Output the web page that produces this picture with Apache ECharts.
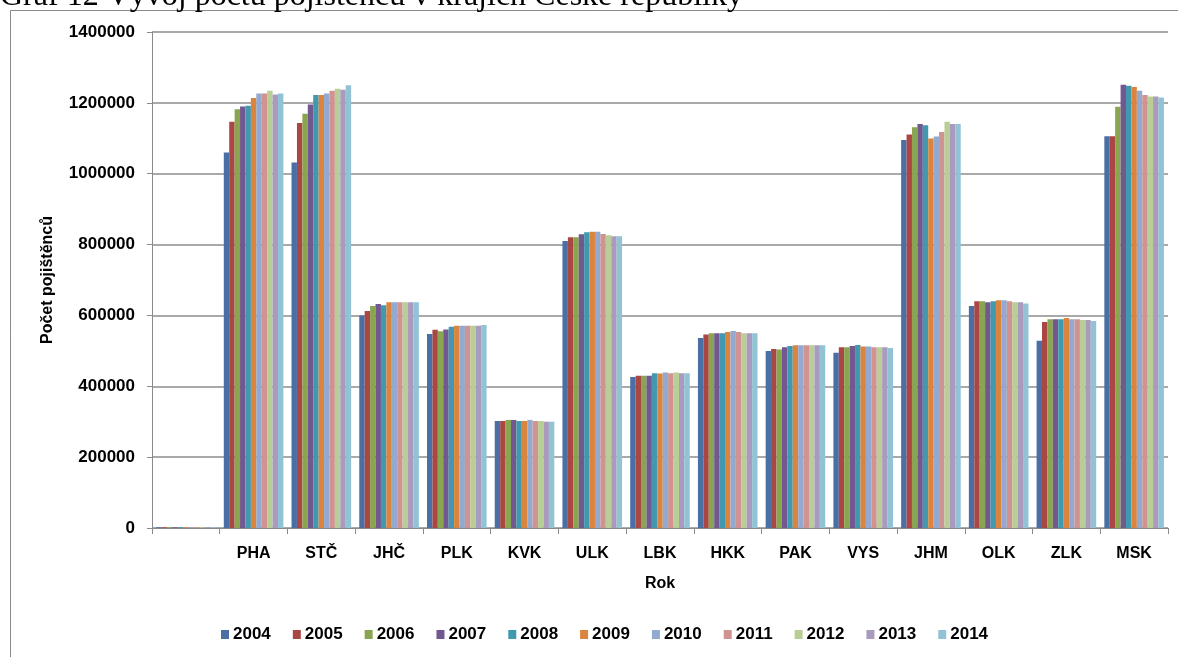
<!DOCTYPE html>
<html>
<head>
<meta charset="utf-8">
<title>Vývoj počtu pojištěnců v krajích</title>
<script src="https://cdn.jsdelivr.net/npm/echarts@6/dist/echarts.min.js"></script>
<style>
  html, body { margin: 0; padding: 0; background: #fff; }
  #chart { width: 1178px; height: 657px; }
</style>
</head>
<body>
<div id="chart"></div>
<script>
// kraje (first category is the empty "Rok" row)
const categories = ['', 'PHA', 'STČ', 'JHČ', 'PLK', 'KVK', 'ULK', 'LBK', 'HKK', 'PAK', 'VYS', 'JHM', 'OLK', 'ZLK', 'MSK']
const years = ['2004', '2005', '2006', '2007', '2008', '2009', '2010', '2011', '2012', '2013', '2014']
const yTicks = [0, 200000, 400000, 600000, 800000, 1000000, 1200000, 1400000]

// values per year, in the order of categories
const v2004 = [2004, 1060000, 1031500, 600000, 547500, 302000, 810000, 426000, 536000, 499500, 494500, 1095000, 626500, 528500, 1106000]
const v2005 = [2005, 1147000, 1143000, 612500, 559500, 302000, 820500, 429500, 546500, 505000, 510500, 1110500, 640000, 581500, 1106000]
const v2006 = [2006, 1182000, 1169000, 626500, 555000, 305000, 820500, 429500, 550000, 504000, 510000, 1131500, 640000, 589000, 1189000]
const v2007 = [2007, 1190000, 1195500, 632000, 560500, 305000, 829000, 429500, 550000, 510500, 513500, 1140000, 637000, 589000, 1251000]
const v2008 = [2008, 1192000, 1222000, 628500, 568000, 302000, 835000, 436500, 550000, 513500, 516500, 1137000, 640000, 589000, 1248000]
const v2009 = [2009, 1213500, 1222000, 637000, 571000, 302000, 836500, 436000, 553000, 515500, 512500, 1099500, 642500, 592500, 1244500]
const v2010 = [2010, 1226500, 1226500, 637000, 571000, 305000, 836500, 439000, 556000, 515500, 512500, 1105000, 642500, 589000, 1234000]
const v2011 = [2011, 1226500, 1234000, 637000, 571000, 302000, 830000, 436500, 553000, 515500, 510000, 1118000, 640000, 589000, 1222000]
const v2012 = [2012, 1234000, 1240000, 637000, 571000, 302000, 826500, 439000, 550000, 515500, 510000, 1146500, 637000, 587000, 1218000]
const v2013 = [2013, 1223500, 1237000, 637000, 571000, 300000, 823500, 436500, 550000, 515500, 510000, 1140000, 637000, 587000, 1218000]
const v2014 = [2014, 1226500, 1250000, 637000, 573000, 300000, 823500, 436500, 550000, 515500, 508000, 1140000, 634000, 584000, 1215000]

const yearValues = [v2004, v2005, v2006, v2007, v2008, v2009, v2010, v2011, v2012, v2013, v2014]
const colors = ['#4a6fa5', '#aa4644', '#8aa54f', '#71588f', '#4199b0', '#db843d', '#93a9cf', '#d09392', '#b9cd96', '#a99bbd', '#92c3d5']

const chart = echarts.init(document.getElementById('chart'))

const labelFont = {
  fontFamily: 'Liberation Sans',
  fontWeight: 'bold',
  color: '#000'
}

const option = {
  animation: false,
  color: colors,
  graphic: [
    {
      type: 'rect',
      shape: { x: 10.5, y: 10.5, width: 1200, height: 700 },
      style: { fill: 'none', stroke: '#8a8a8a', lineWidth: 1 },
      silent: true
    },
    {
      type: 'text',
      left: 0,
      top: -19,
      style: {
        text: 'Graf 12 Vývoj počtu pojištěnců v krajích České republiky',
        font: '32px "Liberation Serif"',
        fill: '#000'
      },
      silent: true
    }
  ],
  grid: {
    left: 152,
    right: 10,
    top: 32,
    bottom: 129
  },
  legend: {
    data: years,
    left: 216,
    top: 621,
    itemWidth: 8,
    itemHeight: 9,
    itemGap: 22,
    icon: 'rect',
    textStyle: Object.assign({ fontSize: 17, padding: [0, 0, 0, -1] }, labelFont)
  },
  xAxis: {
    type: 'category',
    data: categories,
    name: 'Rok',
    nameLocation: 'middle',
    nameGap: 48,
    nameTextStyle: Object.assign({ fontSize: 16 }, labelFont),
    axisLine: { lineStyle: { color: '#8a8a8a', width: 1 } },
    axisTick: { show: true, length: 6, lineStyle: { color: '#8a8a8a' } },
    axisLabel: Object.assign({ fontSize: 16, margin: 18 }, labelFont)
  },
  yAxis: {
    type: 'value',
    min: 0,
    max: 1400000,
    interval: 200000,
    name: 'Počet pojištěnců',
    nameLocation: 'middle',
    nameGap: 96,
    nameTextStyle: Object.assign({ fontSize: 16 }, labelFont),
    axisLine: { show: true, lineStyle: { color: '#8a8a8a', width: 1 } },
    axisTick: { show: true, length: 5, lineStyle: { color: '#8a8a8a' } },
    axisLabel: Object.assign({
      fontSize: 17,
      margin: 17,
      formatter: (val) => yTicks.indexOf(val) >= 0 ? String(val) : ''
    }, labelFont),
    splitLine: { lineStyle: { color: '#8c8c8c', width: 1.5 } }
  },
  series: years.map((y, i) => ({
    name: y,
    type: 'bar',
    data: yearValues[i],
    barGap: '0%',
    barCategoryGap: '12%',
    itemStyle: { color: colors[i] }
  }))
}

chart.setOption(option)
</script>
</body>
</html>
